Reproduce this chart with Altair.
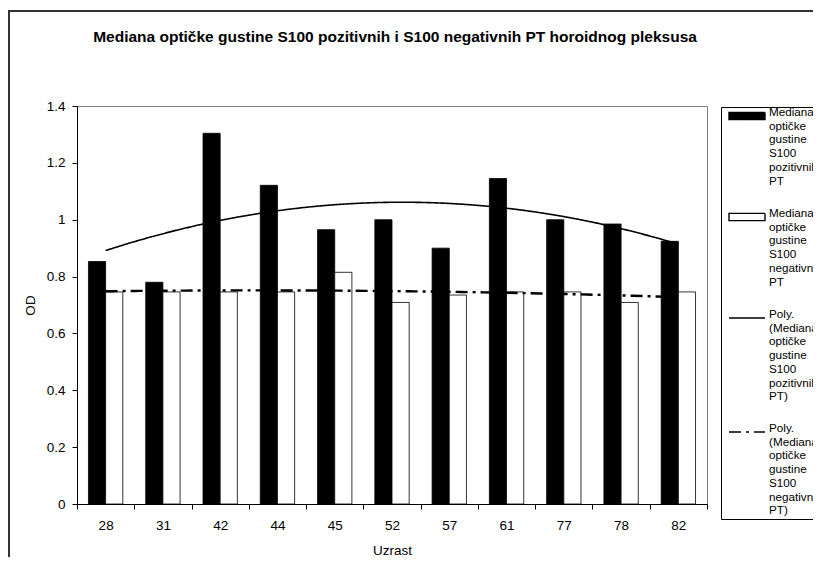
import altair as alt
import pandas as pd

# ---- data ----
ages = ["28", "31", "42", "44", "45", "52", "57", "61", "77", "78", "82"]
positive = [0.853, 0.780, 1.304, 1.121, 0.965, 1.000, 0.900, 1.145, 1.000, 0.985, 0.924]
negative = [0.746, 0.746, 0.746, 0.746, 0.815, 0.709, 0.735, 0.746, 0.746, 0.709, 0.746]

title_text = "Mediana optičke gustine S100 pozitivnih i S100 negativnih PT horoidnog pleksusa"
x_title = "Uzrast"
y_title = "OD"
y_ticks = [0, 0.2, 0.4, 0.6, 0.8, 1.0, 1.2, 1.4]

POS = "Mediana|optičke|gustine|S100|pozitivnih|PT"
NEG = "Mediana|optičke|gustine|S100|negativnih|PT"
POS_T = "Poly.|(Mediana|optičke|gustine|S100|pozitivnih|PT)"
NEG_T = "Poly.|(Mediana|optičke|gustine|S100|negativnih|PT)"
series = [POS, NEG, POS_T, NEG_T]

n = len(ages)
idx = list(range(1, n + 1))
bars_df = pd.DataFrame({
    "age": ages * 2,
    "idx": idx * 2,
    "series": [POS] * n + [NEG] * n,
    "value": positive + negative,
})
trend_df = pd.DataFrame({
    "idx": idx * 2,
    "series": [POS_T] * n + [NEG_T] * n,
    "value": positive + negative,
})
shape_df = pd.DataFrame({"series": series})

FONT = "Liberation Sans"
RECT = "M-3,-0.6H3V0.6H-3Z"
LINE = "M-3,0H3"

legend = alt.Legend(
    title=None, orient="none", legendX=644, legendY=1, direction="vertical",
    strokeColor="black", fillColor="white", padding=2, symbolOffset=17,
    labelExpr="split(datum.label, '|')", labelFont=FONT, labelFontSize=11.7,
    labelColor="black", labelBaseline="alphabetic",
    labelOffset=15, labelLimit=300, symbolSize=144, rowPadding=20,
    symbolStrokeWidth=1.4, symbolOpacity=1,
)

fill_scale = alt.Scale(domain=series, range=["black", "white", "transparent", "transparent"])
stroke_scale = alt.Scale(domain=series, range=["black", "black", "black", "black"])
dash_scale = alt.Scale(domain=series, range=[[1, 0], [1, 0], [1, 0], [12, 5, 3, 5]])
shape_scale = alt.Scale(domain=series, range=[RECT, RECT, LINE, LINE])

y_enc = alt.Y(
    "value:Q", title=y_title,
    scale=alt.Scale(domain=[0, 1.4], nice=False, zero=True),
    axis=alt.Axis(values=y_ticks, format="~g", grid=False, tickSize=5,
                  labelPadding=7, titlePadding=9, labelFontSize=13.5,
                  titleFontSize=13.5, titleFontWeight="normal"),
)

bars = alt.Chart(bars_df).mark_bar(strokeWidth=0.8).encode(
    x=alt.X("age:N", sort=ages, title=x_title,
            scale=alt.Scale(paddingInner=0, paddingOuter=0),
            axis=alt.Axis(labelAngle=0, tickBand="extent", tickSize=5,
                          labelPadding=9, titlePadding=12, labelFontSize=13.5,
                          titleFontSize=13.5, titleFontWeight="normal", grid=False)),
    xOffset=alt.XOffset("series:N", sort=[POS, NEG],
                        scale=alt.Scale(paddingOuter=0.667, paddingInner=0)),
    y=y_enc,
    fill=alt.Fill("series:N", scale=fill_scale, legend=legend),
    stroke=alt.Stroke("series:N", scale=stroke_scale, legend=legend),
)

x_trend = alt.X("idx:Q", scale=alt.Scale(domain=[0.5, n + 0.5], nice=False, zero=False), axis=None)


def trend_layer(name, width):
    return alt.Chart(trend_df).transform_filter(
        alt.FieldEqualPredicate(field="series", equal=name)
    ).transform_regression(
        "idx", "value", method="poly", order=2, groupby=["series"]
    ).mark_line(strokeWidth=width).encode(
        x=x_trend,
        y=y_enc,
        stroke=alt.Stroke("series:N", scale=stroke_scale, legend=legend),
        strokeDash=alt.StrokeDash("series:N", scale=dash_scale, legend=legend),
    )


line_pos = trend_layer(POS_T, 1.6)
line_neg = trend_layer(NEG_T, 2.4)

shapes = alt.Chart(shape_df).mark_point(filled=False).encode(
    shape=alt.Shape("series:N", scale=shape_scale, legend=legend),
    x=alt.value(-3000), y=alt.value(-3000), opacity=alt.value(0),
)

frame = alt.Chart(pd.DataFrame({"k": [0]})).mark_rect(
    fill="transparent", stroke="#333333", strokeWidth=2
).encode(x=alt.value(-68), x2=alt.value(2000), y=alt.value(-95), y2=alt.value(2000))

title = alt.Chart(pd.DataFrame({"t": [title_text]})).mark_text(
    font=FONT, fontSize=15.5, fontWeight="bold", color="black",
    align="center", baseline="middle"
).encode(text="t:N", x=alt.value(318), y=alt.value(-69))

chart = alt.layer(frame, title, bars, line_pos, line_neg, shapes).resolve_scale(
    x="independent"
).properties(
    width=630, height=398,
    autosize=alt.AutoSizeParams(type="none"),
    padding={"left": 69, "top": 98, "right": 106, "bottom": 53},
).configure(font=FONT).configure_view(
    stroke="#808080", strokeWidth=1
).configure_axis(
    domainColor="black", tickColor="black", labelColor="black",
    titleColor="black", labelFont=FONT, titleFont=FONT,
)

chart.save("out.html", embed_options={"renderer": "svg", "actions": False})
